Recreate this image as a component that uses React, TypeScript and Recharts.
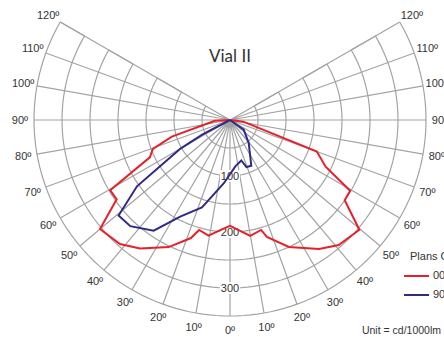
import { ScatterChart, Scatter, XAxis, YAxis, Legend } from 'recharts';

// photometric data (angle from nadir, left side negative; cd/1000lm)
const c0Angles = [-90, -87, -74, -69.5, -65, -59.6, -55, -50, -41.6, -35, -25.8, -18.3, -15.7, -10.5, -4.2, 0, 9.9, 15.8, 17.5, 24.9, 34.6, 41, 49.7, 55, 59.5, 64, 70, 83, 90];
const c0Values = [0, 27, 108, 147, 158, 248, 247, 303, 296, 280, 252, 222, 204, 210, 196, 189, 210, 204, 219, 250, 280, 296, 303, 250, 249, 190, 165, 24, 0];

const c90Angles = [-90, -62.3, -60, -56.4, -54.5, -49.4, -43.2, -34.6, -27.3, -17.8, -13.3, -5.4, 6.8, 15.6, 19.3, 25, 39.1, 54.7, 90];
const c90Values = [0, 56, 102, 153, 204, 262, 260, 240, 194, 164, 140, 113, 83, 75, 89, 90, 53, 30, 0];

const spokeAngles = [-120, -110, -100, -90, -80, -70, -60, -50, -40, -30, -20, -10, 0, 10, 20, 30, 40, 50, 60, 70, 80, 90, 100, 110, 120];
const ringValues = [50, 100, 150, 200, 250, 300, 350];
const valueTicks = [100, 200, 300];
const angleTickLabels = spokeAngles.map(a => `${Math.abs(a)}º`);

const RED = '#e5222b';
const BLUE = '#2f2a86';
const GRID = '#a3a3a3';
const FONT = '"Liberation Sans", Arial, sans-serif';

// axis extents so the pole sits at (230,120) with 0.56 px per cd
const PX = 0.56;
const X_MIN = -230 / PX;
const X_MAX = (444 - 230) / PX;
const Y_MAX = 120 / PX;
const Y_MIN = -(337 - 120) / PX;

const polar = (deg: number, r: number) => {
  const rad = (deg * Math.PI) / 180;
  return { x: r * Math.sin(rad), y: -r * Math.cos(rad) };
};

const c0Data = c0Angles.map((a, i) => polar(a, c0Values[i]));
const c90Data = c90Angles.map((a, i) => polar(a, c90Values[i]));

const arcData = ringValues.flatMap((r, i) => {
  const pts = [];
  for (let a = -120; a <= 120; a += 2) pts.push(polar(a, r));
  return i % 2 === 0 ? pts : pts.reverse();
});
const spokeData = spokeAngles.flatMap(a => [polar(a, 0), polar(a, 350)]);

const angleLabelData = spokeAngles
  .map((a, i) => ({ ...polar(a, 375), label: angleTickLabels[i] }))
  .filter((d, i, arr) => arr.findIndex(o => o.label === d.label && Math.sign(o.x) === Math.sign(d.x)) === i);
const valueLabelData = valueTicks.map(v => ({ ...polar(0, v), label: String(v) }));

const NoDot = () => <g />;

const AngleLabel = (p: any) => (
  <text x={p.cx} y={p.cy} dy="0.35em" textAnchor="middle" fontFamily={FONT} fontSize={11} fill="#333">
    {p.payload.label}
  </text>
);

const ValueLabel = (p: any) => (
  <g>
    <rect x={p.cx - 10} y={p.cy - 6} width={20} height={12} fill="#fff" />
    <text x={p.cx} y={p.cy} dy="0.35em" textAnchor="middle" fontFamily={FONT} fontSize={11} fill="#333">
      {p.payload.label}
    </text>
  </g>
);

const LegendBox = (props: any) => {
  const items = (props.payload || []).filter((e: any) => e.value === '00' || e.value === '90');
  return (
    <div style={{ fontFamily: FONT, fontSize: 11, color: '#333', lineHeight: '19px', whiteSpace: 'nowrap' }}>
      <div style={{ paddingLeft: 6 }}>Plans C</div>
      {items.map((e: any) => (
        <div key={e.value} style={{ display: 'flex', alignItems: 'center', height: 19 }}>
          <span style={{ display: 'inline-block', width: 25, height: 2, background: e.color, marginRight: 4 }} />
          <span>{e.value}</span>
        </div>
      ))}
    </div>
  );
};

export default function App() {
  return (
    <div style={{ position: 'absolute', left: 0, top: 0, width: 444, height: 337, background: '#fff' }}>
      <ScatterChart width={444} height={337} margin={{ top: 0, right: 0, bottom: 0, left: 0 }}>
        <XAxis type="number" dataKey="x" domain={[X_MIN, X_MAX]} allowDataOverflow hide />
        <YAxis type="number" dataKey="y" domain={[Y_MIN, Y_MAX]} allowDataOverflow hide />
        <Scatter data={arcData} line={{ stroke: GRID, strokeWidth: 1.2 }} lineType="joint" shape={NoDot} legendType="none" isAnimationActive={false} />
        <Scatter data={spokeData} line={{ stroke: GRID, strokeWidth: 1.2 }} lineType="joint" shape={NoDot} legendType="none" isAnimationActive={false} />
        <Scatter data={valueLabelData} shape={ValueLabel} legendType="none" isAnimationActive={false} />
        <Scatter data={angleLabelData} shape={AngleLabel} legendType="none" isAnimationActive={false} />
        <Scatter name="00" data={c0Data} fill={RED} line={{ stroke: RED, strokeWidth: 2 }} lineType="joint" shape={NoDot} isAnimationActive={false} />
        <Scatter name="90" data={c90Data} fill={BLUE} line={{ stroke: BLUE, strokeWidth: 2 }} lineType="joint" shape={NoDot} isAnimationActive={false} />
        <Legend
          layout="horizontal"
          verticalAlign="middle"
          align="center"
          wrapperStyle={{ position: 'absolute', left: 404, top: 247, width: 60 }}
          content={LegendBox}
        />
        <text x={230} y={62} textAnchor="middle" fontFamily="Lato, sans-serif" fontSize={17} fill="#333">
          Vial II
        </text>
        <text x={441} y={334} textAnchor="end" fontFamily={FONT} fontSize={10.5} fill="#333">
          Unit = cd/1000lm
        </text>
      </ScatterChart>
    </div>
  );
}
